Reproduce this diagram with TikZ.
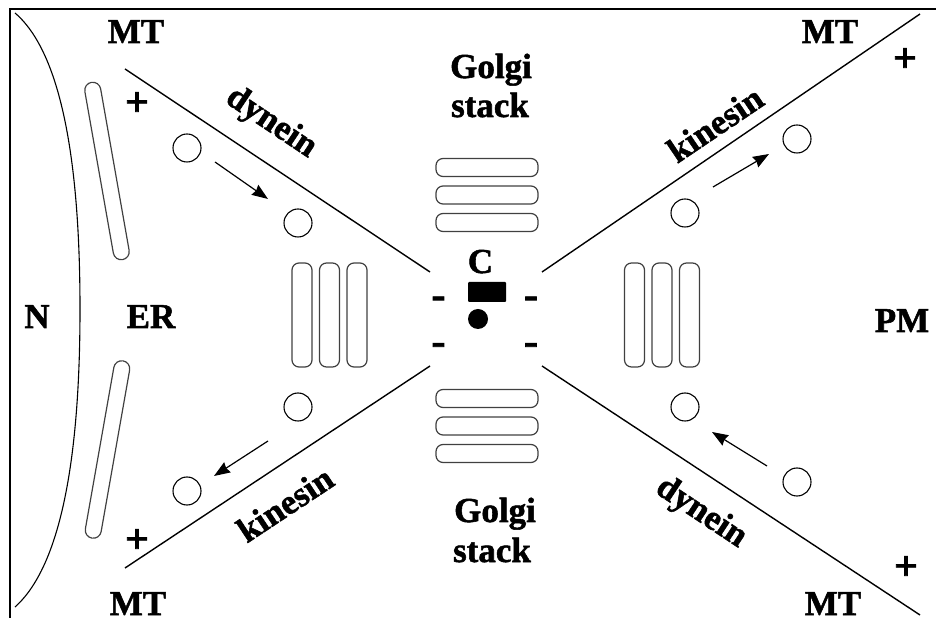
\documentclass[tikz,border=0pt]{standalone}
\usepackage{fontspec}
\setmainfont{Liberation Serif}[BoldFeatures={FakeBold=1.5}]
\usetikzlibrary{arrows.meta,calc}
\begin{document}
\begin{tikzpicture}[x=1pt,y=1pt,
  lbl/.style={font=\fontsize{35}{40}\selectfont\bfseries, inner sep=0pt},
  endmark/.style={font=\fontsize{42}{46}\selectfont\bfseries, inner sep=0pt},
  mtline/.style={line width=1.4pt},
  vesicle/.style={circle, draw, line width=1.1pt, minimum size=28pt, inner sep=0pt},
  cist/.style={draw=black!75, line width=1.2pt, rounded corners=7pt, inner sep=0pt},
  hcist/.style={cist, minimum width=102pt, minimum height=18pt},
  vcist/.style={cist, minimum width=20pt, minimum height=104pt},
  ercist/.style={cist, minimum width=16pt, minimum height=180pt, rounded corners=8pt},
  move/.style={line width=1.2pt, -{Stealth[length=16pt,width=12pt,inset=1.5pt]}}
]
\useasboundingbox (0,0) rectangle (936,618);

% frame
\draw[line width=1.4pt] (936,609) -- (10,609) -- (10,0);

% nuclear envelope
\draw[line width=1.1pt] (15,605) .. controls (70,558) and (80,418) .. (80,309)
  .. controls (80,200) and (70,60) .. (15,11);

% endoplasmic reticulum
\node[ercist, rotate=10] (er1) at (107,447) {};
\node[ercist, rotate=-10] (er2) at (107.5,168.5) {};

% microtubules
\coordinate (tlA) at (125,549); \coordinate (tlB) at (430,346);
\coordinate (trA) at (920,604); \coordinate (trB) at (542,346);
\coordinate (blA) at (125,50);  \coordinate (blB) at (430,252);
\coordinate (brA) at (920,3);   \coordinate (brB) at (542,252);
\draw[mtline] (tlA) -- (tlB);
\draw[mtline] (trA) -- (trB);
\draw[mtline] (blA) -- (blB);
\draw[mtline] (brA) -- (brB);

% Golgi stacks
\foreach \i/\y in {1/450.5, 2/423, 3/395.5}{
  \node[hcist] (gt\i) at (487,\y) {};
}
\foreach \i/\y in {1/219.5, 2/192, 3/164.5}{
  \node[hcist] (gb\i) at (487,\y) {};
}
\foreach \i/\x in {1/302, 2/329.5, 3/357}{
  \node[vcist] (gl\i) at (\x,303) {};
}
\foreach \i/\x in {1/634.5, 2/662, 3/689.5}{
  \node[vcist] (gr\i) at (\x,303) {};
}

% centrosome
\node[fill=black, minimum width=38pt, minimum height=20pt, inner sep=0pt, rounded corners=1pt] (cblock) at (487,326) {};
\node[circle, fill=black, minimum size=20pt, inner sep=0pt] (cdot) at (478,299) {};
\node[lbl, anchor=base] (clbl) at (480.5,345) {C};

% minus ends
\node[endmark] (m1) at (438.5,315.5) {-};
\node[endmark] (m2) at (438.5,269) {-};
\node[endmark] (m3) at (531,315.5) {-};
\node[endmark] (m4) at (531,269) {-};

% plus ends
\node[endmark] (p1) at (137,514) {+};
\node[endmark] (p2) at (137,77) {+};
\node[endmark] (p3) at (905,558) {+};
\node[endmark] (p4) at (906,50) {+};

% vesicles
\node[vesicle] (v1) at (187,470) {};
\node[vesicle] (v2) at (298,395) {};
\node[vesicle] (v3) at (298,211) {};
\node[vesicle] (v4) at (187,127) {};
\node[vesicle] (v5) at (797,479) {};
\node[vesicle] (v6) at (685,405) {};
\node[vesicle] (v7) at (685,211) {};
\node[vesicle] (v8) at (797,136) {};

% transport arrows
\coordinate (a1s) at (215,456); \coordinate (a1e) at (268,419);
\coordinate (a2s) at (268,177); \coordinate (a2e) at (214,142);
\coordinate (a3s) at (713,431); \coordinate (a3e) at (769,464);
\coordinate (a4s) at (767,152); \coordinate (a4e) at (712,186);
\draw[move] (a1s) -- (a1e);
\draw[move] (a2s) -- (a2e);
\draw[move] (a3s) -- (a3e);
\draw[move] (a4s) -- (a4e);

% labels
\node[lbl, anchor=base] (mt1) at (136,575) {MT};
\node[lbl, anchor=base] (mt2) at (830,575) {MT};
\node[lbl, anchor=base] (mt3) at (138,3) {MT};
\node[lbl, anchor=base] (mt4) at (833,3) {MT};
\node[lbl, anchor=base] (nlbl) at (37,290) {N};
\node[lbl, anchor=base] (erlbl) at (151,290) {ER};
\node[lbl, anchor=base] (pmlbl) at (902,286) {PM};
\node[lbl, anchor=base] (golgi1) at (491,540) {Golgi};
\node[lbl, anchor=base] (stack1) at (490,501) {stack};
\node[lbl, anchor=base] (golgi2) at (495,96) {Golgi};
\node[lbl, anchor=base] (stack2) at (492,56) {stack};
\node[lbl, rotate=-33.7] (dy1) at (271,495) {dynein};
\node[lbl, rotate=34] (ki1) at (715,494) {kinesin};
\node[lbl, rotate=33.5] (ki2) at (285,114) {kinesin};
\node[lbl, rotate=-33.5] (dy2) at (701,105) {dynein};
\end{tikzpicture}
\end{document}
